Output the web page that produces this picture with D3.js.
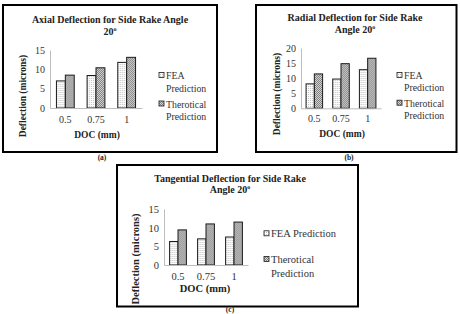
<!DOCTYPE html>
<html>
<head>
<meta charset="utf-8">
<script src="https://cdn.jsdelivr.net/npm/d3@7"></script>
<style>
  body { margin: 0; background: #fff; }
  svg, svg text { font-family: "Liberation Serif", "Times New Roman", "DejaVu Serif", serif; }
</style>
</head>
<body>
<svg id="fig" width="460" height="314"></svg>
<script>
// values
var categories = ["0.5", "0.75", "1"]
var seriesKeys = ["fea", "theo"]

var axialFEA = [7.0, 8.4, 11.8]
var axialTheo = [8.5, 10.4, 13.1]
var radialFEA = [8.1, 9.7, 12.8]
var radialTheo = [11.4, 14.8, 16.6]
var tangFEA = [6.3, 7.0, 7.5]
var tangTheo = [9.4, 11.0, 11.5]

var axialTicks = [0, 5, 10, 15]
var radialTicks = [0, 5, 10, 15, 20]
var tangTicks = [0, 5, 10, 15]

var legendWide = [["FEA", "Prediction"], ["Therotical", "Prediction"]]
var legendNarrow = [["FEA Prediction"], ["Therotical", "Prediction"]]

var FONT = "Liberation Serif, Times New Roman, serif"

var svg = d3.select("#fig").attr("font-family", FONT)

// bar fills: light dots for FEA, grey crosshatch for theory
var defs = svg.append("defs")
var p1 = defs.append("pattern").attr("id", "fea").attr("patternUnits", "userSpaceOnUse")
    .attr("width", 2).attr("height", 2)
p1.append("rect").attr("width", 2).attr("height", 2).attr("fill", "#fbfbfb")
p1.append("rect").attr("width", 1).attr("height", 1).attr("fill", "#c4c4c4")
var p2 = defs.append("pattern").attr("id", "theo").attr("patternUnits", "userSpaceOnUse")
    .attr("width", 2).attr("height", 2)
p2.append("rect").attr("width", 2).attr("height", 2).attr("fill", "#d8d8d8")
p2.append("rect").attr("width", 1).attr("height", 1).attr("fill", "#7c7c7c")
p2.append("rect").attr("x", 1).attr("y", 1).attr("width", 1).attr("height", 1).attr("fill", "#7c7c7c")

var fills = {fea: "url(#fea)", theo: "url(#theo)"}

function drawChart(c) {
    var g = svg.append("g").attr("font-family", FONT)

    g.append("rect")
        .attr("x", c.frame[0]).attr("y", c.frame[1])
        .attr("width", c.frame[2] - c.frame[0]).attr("height", c.frame[3] - c.frame[1])
        .attr("fill", "none").attr("stroke", "#000").attr("stroke-width", 2)

    // title
    var t = g.append("text").attr("text-anchor", "middle").attr("font-family", FONT)
        .attr("font-weight", "bold").attr("font-size", c.titleSize).attr("fill", "#222")
    t.append("tspan").attr("x", c.titleX).attr("y", c.titleY[0]).text(c.title[0])
    var t2 = t.append("tspan").attr("x", c.titleX).attr("y", c.titleY[1]).text(c.title[1])
    t2.append("tspan").attr("font-size", c.titleSize * 0.6).attr("dy", -4).text("o")

    var x0 = d3.scaleBand().domain(categories).range(c.xRange)
        .paddingInner(c.pad).paddingOuter(c.pad / 2)
    var x1 = d3.scaleBand().domain(seriesKeys).range([0, x0.bandwidth()])
    var y = d3.scaleLinear().domain([0, c.ticks[c.ticks.length - 1]]).range(c.yRange)

    // axes
    var ya = g.append("g").attr("transform", "translate(" + c.xRange[0] + ",0)")
        .call(d3.axisLeft(y).tickValues(c.ticks).tickSize(0).tickPadding(5))
    ya.attr("font-family", FONT)
    ya.select(".domain").attr("stroke", "#bdbdbd")
    ya.selectAll("text").attr("font-size", c.tickSize).attr("fill", "#333")

    var groups = g.append("g").selectAll("g")
        .data(categories.map(function(cat, i) { return {cat: cat, fea: c.fea[i], theo: c.theo[i]} }))
        .join("g")
        .attr("transform", function(d) { return "translate(" + x0(d.cat) + ",0)" })

    groups.selectAll("rect")
        .data(function(d) { return seriesKeys.map(function(k) { return {key: k, value: d[k]} }) })
        .join("rect")
        .attr("x", function(d) { return x1(d.key) })
        .attr("y", function(d) { return y(d.value) })
        .attr("width", x1.bandwidth())
        .attr("height", function(d) { return y(0) - y(d.value) })
        .attr("fill", function(d) { return fills[d.key] })
        .attr("stroke", "#1a1a1a").attr("stroke-width", 1)

    var xa = g.append("g").attr("transform", "translate(0," + y(0) + ")")
        .call(d3.axisBottom(x0).tickSize(0).tickPadding(c.xTickPad))
    xa.attr("font-family", FONT)
    xa.select(".domain").attr("stroke", "#bdbdbd")
    xa.selectAll("text").attr("font-size", c.tickSize).attr("fill", "#333")

    // axis titles
    g.append("text")
        .attr("transform", "translate(" + c.yTitle[0] + "," + c.yTitle[1] + ") rotate(-90)")
        .attr("text-anchor", "middle").attr("dominant-baseline", "central")
        .attr("font-weight", "bold").attr("font-size", c.axisTitleSize).attr("fill", "#222")
        .text("Deflection (microns)")
    g.append("text")
        .attr("x", c.xTitle[0]).attr("y", c.xTitle[1])
        .attr("text-anchor", "middle").attr("dominant-baseline", "central")
        .attr("font-weight", "bold").attr("font-size", c.axisTitleSize).attr("fill", "#222")
        .text("DOC (mm)")

    // legend
    var lg = g.append("g")
    c.legend.forEach(function(lines, i) {
        var ly = c.legendY[i]
        lg.append("rect")
            .attr("x", c.legendX).attr("y", ly - 2.5).attr("width", 5).attr("height", 5)
            .attr("fill", fills[seriesKeys[i]]).attr("stroke", "#1a1a1a").attr("stroke-width", 0.8)
        var lt = lg.append("text").attr("font-size", c.legendSize).attr("fill", "#333")
            .attr("dominant-baseline", "central")
        lines.forEach(function(s, j) {
            lt.append("tspan")
                .attr("x", c.legendX + (j == 0 ? 7 : c.legendIndent))
                .attr("y", ly + j * c.legendLine).text(s)
        })
    })

    // panel label
    g.append("text").attr("x", c.label[0]).attr("y", c.label[1])
        .attr("text-anchor", "middle").attr("font-weight", "bold").attr("font-size", 7.5)
        .attr("fill", "#222").text(c.labelText)
}

drawChart({
    frame: [3, 5, 217, 152],
    title: ["Axial Deflection for Side Rake Angle", "20"], titleX: 110, titleY: [23, 35], titleSize: 10,
    xRange: [50, 142], yRange: [108, 50], ticks: axialTicks, pad: 0.42,
    fea: axialFEA, theo: axialTheo,
    tickSize: 10, xTickPad: 8, axisTitleSize: 9.5,
    yTitle: [23, 96], xTitle: [97, 135],
    legend: legendWide, legendX: 159, legendY: [75, 103.5], legendLine: 12.5, legendIndent: 7, legendSize: 9.8,
    label: [102, 160], labelText: "(a)"
})

drawChart({
    frame: [256, 5, 456.5, 152],
    title: ["Radial Deflection for Side Rake", "Angle 20"], titleX: 355, titleY: [21, 33], titleSize: 10,
    xRange: [301, 381], yRange: [108.3, 48], ticks: radialTicks, pad: 0.38,
    fea: radialFEA, theo: radialTheo,
    tickSize: 10, xTickPad: 7, axisTitleSize: 9.5,
    yTitle: [276.5, 94], xTitle: [342, 134],
    legend: legendWide, legendX: 397, legendY: [75, 102.7], legendLine: 12, legendIndent: 7, legendSize: 9.8,
    label: [349, 160], labelText: "(b)"
})

drawChart({
    frame: [117, 165, 358, 306.5],
    title: ["Tangential Deflection for Side Rake", "Angle 20"], titleX: 230, titleY: [182, 193], titleSize: 10,
    xRange: [164, 248], yRange: [265, 209], ticks: tangTicks, pad: 0.4,
    fea: tangFEA, theo: tangTheo,
    tickSize: 10.5, xTickPad: 8, axisTitleSize: 10.5,
    yTitle: [135, 259], xTitle: [205, 288.5],
    legend: legendNarrow, legendX: 264, legendY: [233.3, 259], legendLine: 14.3, legendIndent: 7, legendSize: 10.5,
    label: [230, 312], labelText: "(c)"
})
</script>
</body>
</html>
